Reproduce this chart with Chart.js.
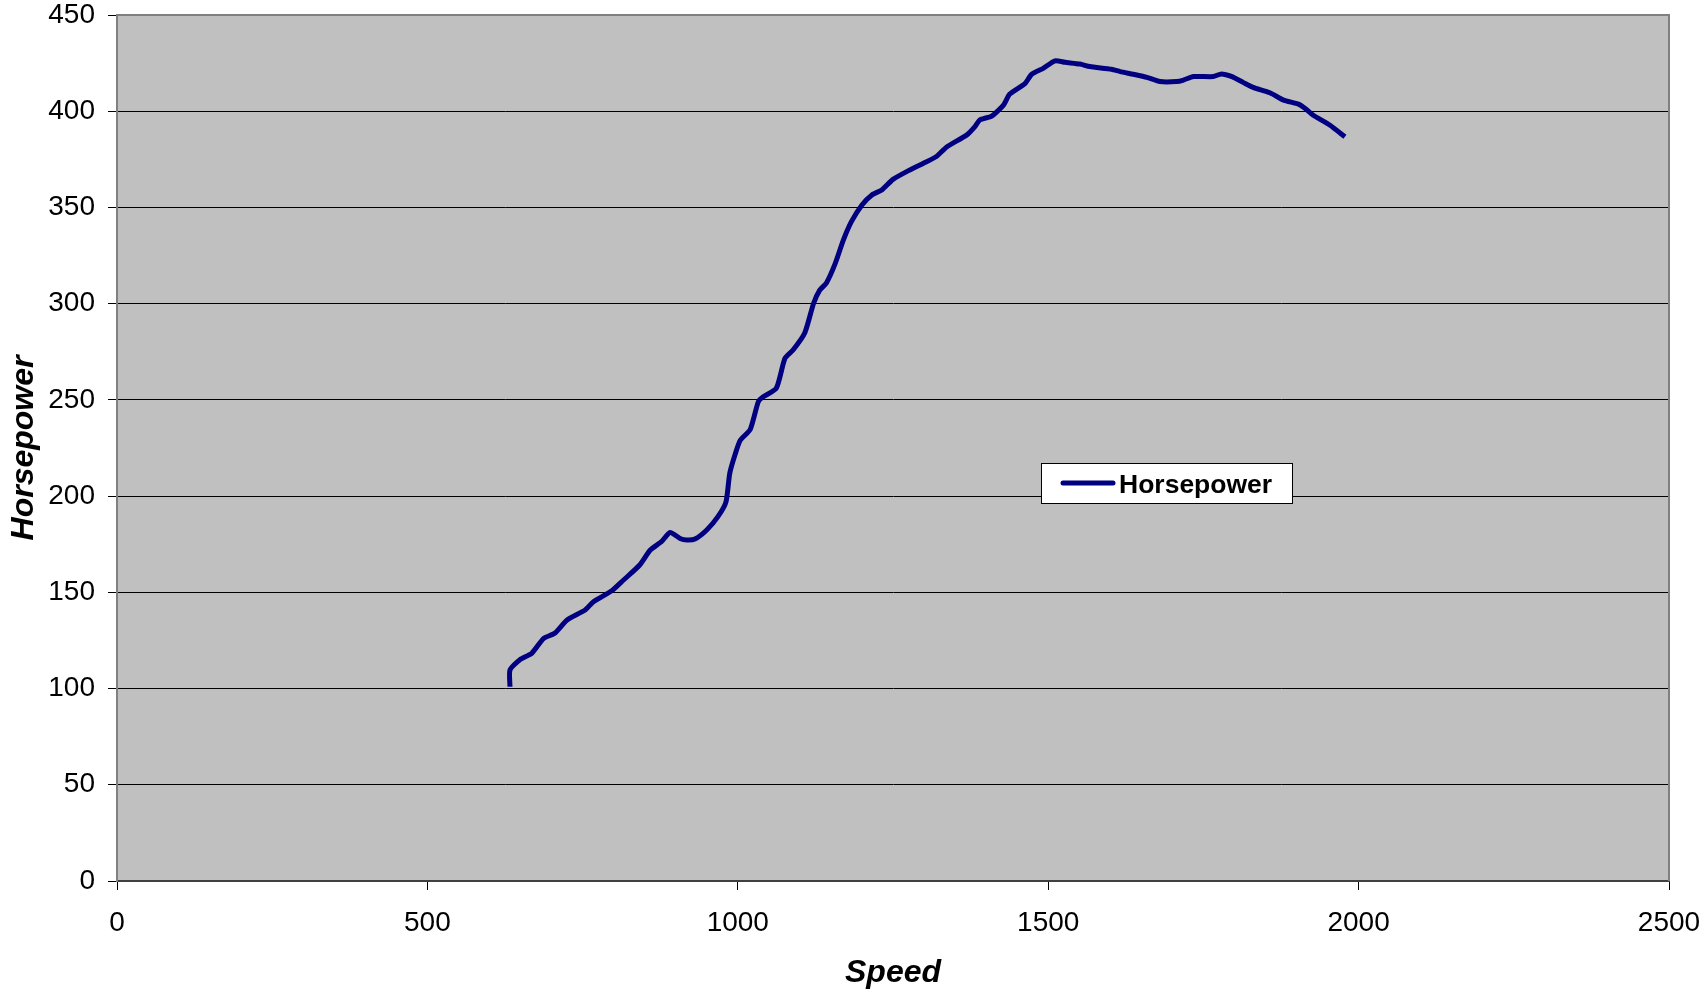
<!DOCTYPE html>
<html>
<head>
<meta charset="utf-8">
<script src="https://cdn.jsdelivr.net/npm/chart.js@4/dist/chart.umd.min.js"></script>
<style>
  html, body { margin: 0; padding: 0; background: #fff; }
  #wrap { width: 1703px; height: 989px; }
</style>
</head>
<body>
<div id="wrap"><canvas id="chart_hp"></canvas></div>
<script>
// speed / horsepower
var speed = [633, 633, 649, 668, 687, 705, 725, 754, 767, 797, 816, 842, 859, 877, 891, 907, 918, 931, 950, 968,
  981, 987, 996, 1004, 1020, 1033, 1041, 1062, 1076, 1089, 1108, 1122, 1132, 1143, 1157, 1170, 1183, 1200, 1216, 1232,
  1250, 1277, 1299, 1320, 1336, 1369, 1382, 1390, 1409, 1428, 1438, 1463, 1473, 1492, 1511, 1527, 1551, 1567, 1602, 1616,
  1637, 1659, 1680, 1707, 1718, 1734, 1766, 1779, 1796, 1814, 1830, 1857, 1879, 1903, 1914, 1927, 1954, 1978];
var horsepower = [101, 109.6, 115, 118.3, 126, 128.7, 135.6, 140.8, 145, 150.8, 156.4, 164.2, 172, 176.3, 181.1, 178, 177.2, 177.7, 182.4, 189.3,
  197, 211.8, 222, 229, 234.6, 249, 251.6, 256, 271.6, 275.9, 284.9, 300.1, 307, 310.9, 320.9, 333, 342.6, 351.3, 356.5, 359.1,
  364.6, 369.5, 373, 376.5, 381.3, 387.7, 392, 395.5, 397.5, 403.2, 408.9, 414.5, 419.1, 422.3, 426.2, 425.4, 424.5, 423.2, 421.8, 420.6,
  419.2, 417.6, 415.4, 415.4, 416.2, 418, 418, 419.4, 418, 415, 412.4, 409.6, 405.8, 403.7, 401.4, 397.9, 392.7, 386.7];
var seriesLabel = "Horsepower";
var xTitle = "Speed";
var yTitle = "Horsepower";

var points = [];
for (var i = 0; i < speed.length; i++) {
  points.push({x: speed[i], y: horsepower[i]});
}

var plotArea = {
  id: 'plotArea',
  beforeDraw: function(chart) {
    var a = chart.chartArea, ctx = chart.ctx;
    ctx.save();
    ctx.fillStyle = '#C0C0C0';
    ctx.fillRect(a.left, a.top, a.right - a.left, a.bottom - a.top);
    ctx.restore();
  },
  afterDraw: function(chart) {
    var a = chart.chartArea, ctx = chart.ctx;
    ctx.save();
    // grey frame top and right
    ctx.strokeStyle = '#808080';
    ctx.lineWidth = 2;
    ctx.beginPath();
    ctx.moveTo(a.left, a.top);
    ctx.lineTo(a.right, a.top);
    ctx.lineTo(a.right, a.bottom);
    ctx.stroke();
    // legend box
    var bx = 1041, by = 463, bw = 251, bh = 40;
    ctx.fillStyle = '#fff';
    ctx.fillRect(bx, by, bw, bh);
    ctx.strokeStyle = '#000';
    ctx.lineWidth = 1;
    ctx.strokeRect(bx + 0.5, by + 0.5, bw, bh);
    ctx.strokeStyle = '#000080';
    ctx.lineWidth = 5;
    ctx.lineCap = 'round';
    ctx.beginPath();
    ctx.moveTo(bx + 22, by + 20);
    ctx.lineTo(bx + 72, by + 20);
    ctx.stroke();
    ctx.fillStyle = '#000';
    ctx.font = 'bold 26.5px "Liberation Sans", Arial, sans-serif';
    ctx.textBaseline = 'middle';
    ctx.fillText(chart.data.datasets[0].label, bx + 78, by + 23);
    ctx.restore();
  }
};

var ctx = document.getElementById('chart_hp').getContext('2d');
var myChart = new Chart(ctx, {
  type: 'line',
  data: {
    datasets: [{
      label: seriesLabel,
      data: points,
      borderColor: '#000080',
      backgroundColor: '#000080',
      borderWidth: 5,
      pointRadius: 0,
      tension: 0.2,
      fill: false
    }]
  },
  options: {
    responsive: true,
    maintainAspectRatio: false,
    animation: false,
    layout: { padding: { top: 15, right: 34, left: 0, bottom: 0 } },
    plugins: {
      legend: { display: false },
      tooltip: { enabled: false }
    },
    scales: {
      x: {
        type: 'linear',
        min: 0,
        max: 2500,
        afterFit: function(scale) {
          scale.height = 108;
          scale.paddingLeft = 0;
          scale.paddingRight = 0;
        },
        ticks: {
          stepSize: 500,
          color: '#000',
          padding: 16,
          maxRotation: 0,
          callback: function(v) { return String(v); },
          font: { family: '"Liberation Sans", Arial, sans-serif', size: 28 }
        },
        grid: { drawOnChartArea: false, tickLength: 9, tickColor: '#000' },
        border: { color: '#404040', width: 2 },
        title: {
          display: true,
          text: xTitle,
          color: '#000',
          padding: { top: 0, bottom: 0 },
          font: { family: '"Liberation Sans", Arial, sans-serif', size: 32, weight: 'bold', style: 'italic', lineHeight: 1.0 }
        }
      },
      y: {
        min: 0,
        max: 450,
        afterFit: function(scale) {
          scale.width = 117;
          scale.paddingTop = 0;
          scale.paddingBottom = 0;
        },
        ticks: {
          stepSize: 50,
          color: '#000',
          padding: 13,
          callback: function(v) { return String(v); },
          font: { family: '"Liberation Sans", Arial, sans-serif', size: 28 }
        },
        grid: { color: '#000', lineWidth: 1, tickLength: 9, tickColor: '#000' },
        border: { color: '#808080', width: 2 },
        title: {
          display: true,
          text: yTitle,
          color: '#000',
          padding: { top: 8, bottom: 0 },
          font: { family: '"Liberation Sans", Arial, sans-serif', size: 32, weight: 'bold', style: 'italic', lineHeight: 1.0 }
        }
      }
    }
  },
  plugins: [plotArea]
});
</script>
</body>
</html>
